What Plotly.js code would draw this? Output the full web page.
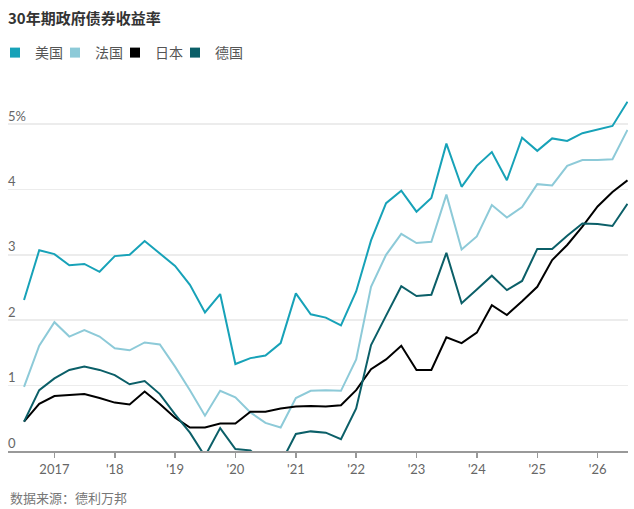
<!DOCTYPE html>
<html>
<head>
<meta charset="utf-8">
<script src="https://cdn.plot.ly/plotly-3.0.1.min.js"></script>
<style>html,body{margin:0;padding:0;background:#fff;}#chart{width:634px;height:509px;}</style>
</head>
<body>
<div id="chart"></div>
<script>
var dates = ['2016-07-01','2016-10-01','2017-01-01','2017-04-01','2017-07-01','2017-10-01',
  '2018-01-01','2018-04-01','2018-07-01','2018-10-01','2019-01-01','2019-04-01','2019-07-01','2019-10-01',
  '2020-01-01','2020-04-01','2020-07-01','2020-10-01','2021-01-01','2021-04-01','2021-07-01','2021-10-01',
  '2022-01-01','2022-04-01','2022-07-01','2022-10-01','2023-01-01','2023-04-01','2023-07-01','2023-10-01',
  '2024-01-01','2024-04-01','2024-07-01','2024-10-01','2025-01-01','2025-04-01','2025-07-01','2025-10-01',
  '2026-01-01','2026-04-01','2026-07-01'];

var us = [2.31,3.07,3.01,2.84,2.86,2.74,2.98,3.00,3.21,3.02,2.83,2.54,2.12,2.40,1.33,1.42,1.46,1.65,2.41,2.09,
  2.04,1.92,2.44,3.22,3.79,3.98,3.66,3.87,4.70,4.04,4.36,4.57,4.14,4.79,4.59,4.78,4.74,4.86,4.92,4.97,5.34];
var france = [0.98,1.61,1.97,1.75,1.85,1.75,1.57,1.54,1.66,1.63,1.29,0.93,0.54,0.92,0.82,0.59,0.43,0.36,0.81,0.92,
  0.93,0.92,1.40,2.51,3.00,3.32,3.18,3.20,3.92,3.08,3.28,3.76,3.57,3.73,4.08,4.06,4.36,4.45,4.45,4.46,4.91];
var japan = [0.45,0.72,0.84,0.85,0.87,0.81,0.74,0.71,0.91,0.72,0.51,0.36,0.36,0.42,0.42,0.60,0.60,0.65,0.68,0.69,
  0.68,0.70,0.93,1.25,1.40,1.61,1.24,1.24,1.74,1.65,1.81,2.23,2.08,2.29,2.51,2.92,3.15,3.43,3.74,3.96,4.14];
var germany = [0.45,0.93,1.11,1.24,1.29,1.24,1.16,1.02,1.07,0.87,0.56,0.28,-0.08,0.35,0.03,0.01,-0.22,-0.19,0.26,0.30,
  0.28,0.18,0.65,1.62,2.07,2.52,2.37,2.39,3.03,2.26,2.47,2.68,2.46,2.60,3.09,3.09,3.29,3.48,3.47,3.44,3.78];

var seriesNames = ['美国','法国','日本','德国'];
var seriesColors = ['#17a2b8','#8dcad8','#000000','#0b5f68'];
var seriesData = [us, france, japan, germany];

var xTickVals = ['2017-01-01','2018-01-01','2019-01-01','2020-01-01','2021-01-01','2022-01-01','2023-01-01','2024-01-01','2025-01-01','2026-01-01'];
var xTickText = ['2017',"'18","'19","'20","'21","'22","'23","'24","'25","'26"];
var yTickVals = [0,1,2,3,4,5];
var yTickText = ['0','1','2','3','4','5%'];

var titleText = '30年期政府债券收益率';
var sourceText = '数据来源：德利万邦';

var FONT = 'Lato, "Noto Sans CJK SC", "Noto Sans", sans-serif';
var CJK = '"Noto Sans CJK SC", Lato, sans-serif';

var traces = [];
for (var i = 0; i < seriesNames.length; i++) {
  traces.push({
    x: dates, y: seriesData[i], type: 'scatter', mode: 'lines',
    name: seriesNames[i], showlegend: false, hoverinfo: 'skip',
    line: {color: seriesColors[i], width: 2}
  });
}
for (var j = 0; j < seriesNames.length; j++) {
  traces.push({
    x: [null], y: [null], type: 'scatter', mode: 'markers',
    name: seriesNames[j], showlegend: true,
    marker: {symbol: 'square', size: 10, color: seriesColors[j]}
  });
}
// spacer entry so the last legend label is not clipped
traces.push({
  x: [null], y: [null], type: 'scatter', mode: 'markers',
  name: ' ', showlegend: true,
  marker: {symbol: 'square', size: 10, color: 'rgba(0,0,0,0)'}
});

var layout = {
  width: 634, height: 509,
  margin: {l: 8, r: 6, t: 90, b: 58, pad: 0, autoexpand: false},
  paper_bgcolor: '#fff', plot_bgcolor: '#fff',
  font: {family: FONT, color: '#666', size: 13},
  title: {
    text: '<b>' + titleText + '</b>',
    font: {family: CJK, size: 15, color: '#333'},
    xref: 'container', yref: 'container',
    x: 8/634, xanchor: 'left', y: 1 - 18.5/509, yanchor: 'middle'
  },
  showlegend: true,
  legend: {
    orientation: 'h', x: -13/620, xanchor: 'left', y: 1.1025, yanchor: 'middle',
    font: {family: CJK, size: 14, color: '#555'},
    entrywidth: 15, itemwidth: 30, bgcolor: 'rgba(0,0,0,0)', borderwidth: 0,
    traceorder: 'normal'
  },
  xaxis: {
    type: 'date',
    range: ['2016-03-26', '2026-07-04'],
    tickvals: xTickVals, ticktext: xTickText,
    ticks: 'outside', ticklen: 5, tickwidth: 1.5, tickcolor: '#999',
    showline: true, linecolor: '#999', linewidth: 2,
    showgrid: false, zeroline: false,
    tickfont: {family: FONT, size: 13, color: '#666'},
    fixedrange: true
  },
  yaxis: {
    range: [0, 5.52],
    tickvals: yTickVals, ticktext: yTickText,
    ticks: '', ticklabelposition: 'inside', ticklabelshift: -8, ticklabelstandoff: -3,
    showgrid: true, gridcolor: '#ececec', gridwidth: 1.5,
    zeroline: false, showline: false,
    tickfont: {family: FONT, size: 13, color: '#666'},
    fixedrange: true
  },
  annotations: [{
    text: sourceText, xref: 'paper', yref: 'paper',
    x: 0, xanchor: 'left', y: (451 - 497) / 361, yanchor: 'middle',
    showarrow: false, font: {family: CJK, size: 13, color: '#777'}
  }]
};

Plotly.newPlot('chart', traces, layout, {displayModeBar: false, staticPlot: true});
</script>
</body>
</html>
